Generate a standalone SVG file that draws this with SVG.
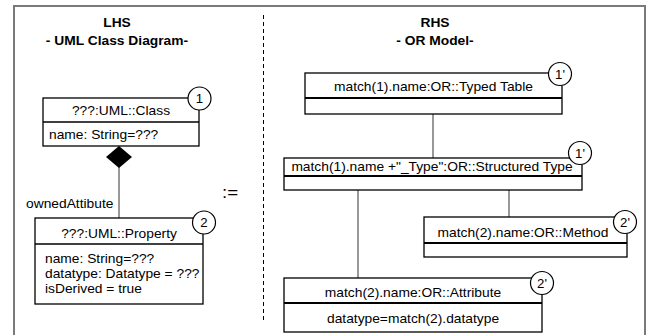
<svg xmlns="http://www.w3.org/2000/svg" width="648" height="335" viewBox="0 0 648 335">
<style>
text{font-family:"Liberation Sans",Arial,sans-serif;font-size:12px;fill:#000}
.b{font-weight:bold}
.m{text-anchor:middle}
.box{fill:#fff;stroke:#000;stroke-width:1.3}
.div{stroke:#000;stroke-width:1.5}
.div2{stroke:#000;stroke-width:2}
.tag{fill:#fff;stroke:#000;stroke-width:1.2}
.con{stroke:#333;stroke-width:1;fill:none}
</style>
<rect width="648" height="335" fill="#fff"/>
<path d="M14,336 V6 H645 V336" fill="none" stroke="#7a7a7a" stroke-width="2"/>
<line x1="263.5" y1="15" x2="263.5" y2="322" stroke="#000" stroke-width="1" stroke-dasharray="4,3"/>
<g id="headers">
<text class="b m" transform="translate(117,27) scale(1.15,1)">LHS</text>
<text class="b m" transform="translate(117,45) scale(1.15,1)">- UML Class Diagram-</text>
<text class="b m" transform="translate(435,27) scale(1.15,1)">RHS</text>
<text class="b m" transform="translate(435,45) scale(1.15,1)">- OR Model-</text>
<text class="m" style="font-size:17px" transform="translate(230,198) scale(1.1,1)">:=</text>
</g>
<g id="connectors">
<line class="con" x1="119" y1="167" x2="119" y2="218"/>
<polygon points="119,146 132,157 119,168 106,157" fill="#000"/>
<text transform="translate(26,208) scale(1.15,1)">ownedAttibute</text>
<line class="con" x1="433" y1="114" x2="433" y2="158"/>
<line class="con" x1="509" y1="190" x2="509" y2="217"/>
<line class="con" x1="358" y1="190" x2="358" y2="278"/>
</g>
<g id="uml-class">
<rect class="box" x="43" y="98" width="156" height="48"/>
<line class="div" x1="43" y1="122" x2="199" y2="122"/>
<text class="m" transform="translate(121,115) scale(1.15,1)">???:UML::Class</text>
<text transform="translate(49,139) scale(1.15,1)">name: String=???</text>
<circle class="tag" cx="199.5" cy="98.5" r="11.5"/>
<text class="m" transform="translate(199.5,103) scale(1.1,1)">1</text>
</g>
<g id="uml-property">
<rect class="box" x="35" y="218" width="168" height="86"/>
<line class="div" x1="35" y1="244" x2="203" y2="244"/>
<text class="m" transform="translate(119,238) scale(1.15,1)">???:UML::Property</text>
<text transform="translate(45,263) scale(1.15,1)">name: String=???</text>
<text transform="translate(45,278) scale(1.15,1)">datatype: Datatype = ???</text>
<text transform="translate(45,293) scale(1.15,1)">isDerived = true</text>
<circle class="tag" cx="204" cy="222.5" r="11.5"/>
<text class="m" transform="translate(204,227) scale(1.1,1)">2</text>
</g>
<g id="or-typed-table">
<rect class="box" x="305" y="73" width="257" height="41"/>
<line class="div2" x1="305" y1="98" x2="562" y2="98"/>
<text class="m" transform="translate(433.5,91) scale(1.15,1)">match(1).name:OR::Typed Table</text>
<circle class="tag" cx="560" cy="74" r="11.5"/>
<text class="m" transform="translate(560,78.5) scale(1.1,1)">1'</text>
</g>
<g id="or-structured-type">
<rect class="box" x="284" y="158" width="298" height="32"/>
<line class="div2" x1="284" y1="176" x2="582" y2="176"/>
<text class="m" transform="translate(432,171) scale(1.15,1)">match(1).name +"_Type":OR::Structured Type</text>
<circle class="tag" cx="580" cy="153" r="11.5"/>
<text class="m" transform="translate(580,157.5) scale(1.1,1)">1'</text>
</g>
<g id="or-method">
<rect class="box" x="424" y="217" width="203" height="40"/>
<line class="div2" x1="424" y1="243" x2="627" y2="243"/>
<text class="m" transform="translate(523,237) scale(1.15,1)">match(2).name:OR::Method</text>
<circle class="tag" cx="625" cy="222" r="11.5"/>
<text class="m" transform="translate(625,226.5) scale(1.1,1)">2'</text>
</g>
<g id="or-attribute">
<rect class="box" x="284" y="278" width="258" height="54"/>
<line class="div2" x1="284" y1="303" x2="542" y2="303"/>
<text class="m" transform="translate(413,297) scale(1.15,1)">match(2).name:OR::Attribute</text>
<text class="m" transform="translate(413,323) scale(1.15,1)">datatype=match(2).datatype</text>
<circle class="tag" cx="542" cy="283" r="11.5"/>
<text class="m" transform="translate(542,287.5) scale(1.1,1)">2'</text>
</g>
</svg>
